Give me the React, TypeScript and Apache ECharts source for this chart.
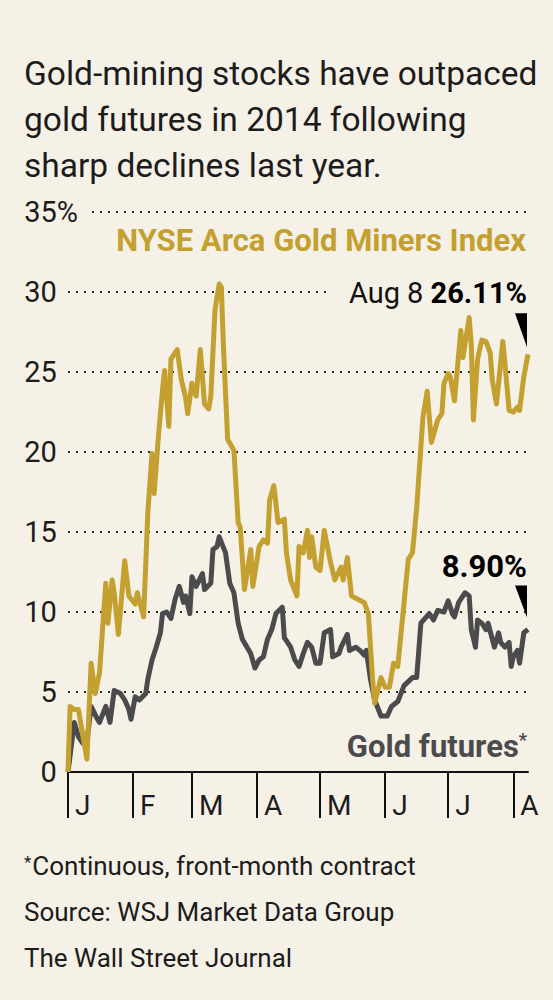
import React, { useEffect, useRef } from 'react';
import * as echarts from 'echarts';

const BG = '#f6f1e6';
const GOLD = '#c3a02f';
const GRAY = '#4b4b4d';
const INK = '#1c1c1c';
const FONT = 'Roboto, "Noto Sans", sans-serif';

const titleLines = [
  'Gold-mining stocks have outpaced',
  'gold futures in 2014 following',
  'sharp declines last year.',
];
const minersName = 'NYSE Arca Gold Miners Index';
const futuresName = 'Gold futures';
const lastDateLabel = 'Aug 8';
const notes = ['Continuous, front-month contract', 'Source: WSJ Market Data Group', 'The Wall Street Journal'];

// x values: days since Jan 1, 2014
const monthStarts = [0, 31, 59, 90, 120, 151, 181, 212];
const monthLetters = ['J', 'F', 'M', 'A', 'M', 'J', 'J', 'A'];
const lastDay = 219; // Aug 8

const minersDays = [0, 1, 3, 5, 6, 9, 11, 13, 15, 18, 19, 21, 22, 24, 27, 29, 32, 33, 36, 38, 40, 41, 43, 45, 46, 48, 49, 52, 54, 56, 57, 59, 61, 63, 65, 67, 68, 70, 72, 73, 74, 76, 79, 81, 82, 84, 87, 88, 91, 93, 95, 96, 98, 100, 103, 104, 106, 109, 110, 112, 114, 115, 116, 118, 120, 122, 125, 127, 130, 131, 133, 135, 138, 141, 143, 145, 146, 149, 151, 153, 155, 157, 160, 162, 164, 166, 168, 169, 171, 173, 176, 178, 179, 181, 182, 184, 187, 188, 191, 192, 193, 195, 197, 199, 201, 202, 204, 207, 208, 210, 212, 214, 215, 217, 219];
const minersVals = [0, 4.1, 3.9, 3.9, 3.1, 0.8, 6.8, 4.9, 6.2, 11.8, 9.3, 12, 11.2, 8.6, 13.2, 11, 10.5, 11.2, 9.7, 16.2, 19.9, 17.4, 20.9, 23.9, 25.1, 21.6, 25.8, 26.4, 24.5, 23.4, 22.4, 24.3, 23.5, 26.4, 23, 22.7, 23.5, 28.9, 30.5, 30.3, 26.6, 20.8, 20.1, 15.6, 15.3, 11.4, 13.9, 11.6, 14.1, 14.5, 14.3, 17, 17.9, 15.6, 15.8, 13.7, 12, 11, 14.1, 13.7, 15.1, 13.4, 14.7, 12.8, 12.6, 15.1, 13.1, 12, 12.8, 12, 13.4, 11, 10.8, 10.6, 9.9, 5.8, 4.3, 5.9, 5.3, 5.3, 6.8, 6.6, 10.6, 13.3, 13.7, 16.5, 20.3, 22.2, 23.8, 20.6, 22, 22.4, 24.3, 24.9, 24.7, 23.2, 27.6, 25.9, 28.4, 26.7, 22, 25.8, 27, 26.9, 26.2, 24.5, 23, 26.9, 25.6, 22.6, 22.5, 22.8, 22.6, 24.7, 26.11];

const futuresDays = [0, 3, 5, 7, 9, 11, 14, 15, 18, 20, 22, 25, 27, 29, 30, 32, 34, 37, 38, 40, 42, 44, 45, 47, 49, 51, 53, 55, 56, 58, 59, 61, 64, 65, 68, 69, 71, 72, 75, 77, 79, 81, 83, 87, 89, 91, 93, 95, 97, 99, 102, 103, 106, 108, 110, 112, 114, 116, 118, 120, 122, 125, 126, 129, 130, 133, 134, 137, 139, 141, 142, 144, 146, 149, 152, 154, 157, 160, 164, 166, 168, 172, 174, 176, 179, 181, 183, 184, 186, 189, 191, 192, 194, 195, 197, 199, 200, 202, 203, 205, 206, 208, 210, 211, 212, 214, 215, 217, 219];
const futuresVals = [0, 3.1, 2.2, 1.8, 1.9, 4.1, 3.3, 3.1, 4.1, 3.1, 5.1, 4.9, 4.5, 3.9, 3.3, 4.7, 4.5, 4.9, 5.8, 7, 7.8, 8.7, 9.9, 10, 9.6, 10.8, 11.6, 10.6, 11, 9.9, 12.2, 11.6, 12.4, 11.4, 11.8, 13.9, 14.1, 14.7, 13.7, 11.8, 11.2, 9.3, 8.3, 7.4, 6.5, 7, 7.2, 8.3, 8.9, 9.9, 10.3, 8.4, 7.8, 7, 6.6, 7.4, 8.1, 7.8, 6.8, 6.8, 8.7, 8.9, 7.2, 7.4, 7.8, 8.6, 7.6, 7.8, 7.6, 7.3, 7.6, 5.8, 4.5, 3.5, 3.5, 4.1, 4.4, 5.4, 5.9, 5.9, 9.3, 9.9, 9.5, 10.1, 10, 10.7, 9.9, 9.7, 10.6, 11.2, 11, 8.9, 7.8, 9.5, 9.3, 8.9, 9.3, 8.3, 7.8, 8.7, 8.1, 7.8, 8.1, 6.6, 7.2, 7.6, 6.8, 8.7, 8.9];

const pairs = (xs: number[], ys: number[]) => xs.map((x, i) => [x, ys[i]]);
const WEDGE = 'path://M0,0L12,0L12,34Z';

export default function App() {
  const ref = useRef<HTMLDivElement>(null);
  useEffect(() => {
    if (!ref.current) return;
    const chart = echarts.init(ref.current, undefined, { renderer: 'svg' });
    const mLast = minersVals[minersVals.length - 1];
    const fLast = futuresVals[futuresVals.length - 1];
    const txt = (text: string, x: number, y: number, size: number, color: string, weight: string, align = 'left', rich?: any) => ({
      type: 'text',
      x,
      y,
      silent: true,
      style: {
        text,
        fill: color,
        font: `${weight} ${size}px ${FONT}`,
        fontSize: size,
        fontWeight: weight,
        fontFamily: FONT,
        align,
        verticalAlign: 'middle',
        textAlign: align,
        textVerticalAlign: 'middle',
        rich,
      },
    });
    const option: any = {
      animation: false,
      backgroundColor: BG,
      grid: { left: 68, right: 25, top: 212, bottom: 228, containLabel: false },
      xAxis: {
        type: 'value',
        min: 0,
        max: lastDay,
        splitLine: { show: false },
        axisLine: { show: true, lineStyle: { color: '#111', width: 2 } },
        axisTick: { show: true, customValues: monthStarts, length: 46, lineStyle: { color: '#111', width: 2 } },
        axisLabel: {
          customValues: monthStarts,
          formatter: (v: number) => monthLetters[monthStarts.indexOf(Math.round(v))] ?? '',
          align: 'left',
          padding: [0, 0, 0, 7],
          margin: 19,
          fontSize: 28,
          fontFamily: FONT,
          color: INK,
        },
      },
      yAxis: {
        type: 'value',
        min: 0,
        max: 35,
        interval: 5,
        axisLine: { show: false },
        axisTick: { show: false },
        splitLine: { show: true, lineStyle: { color: '#2a2a2a', width: 2, type: [2, 6] } },
        axisLabel: {
          margin: -18,
          formatter: (v: number) => (v === 35 ? `{v|${v}}{p|%}` : `{v|${v}}{h|%}`),
          rich: {
            v: { fontSize: 29, fontFamily: FONT, color: INK },
            p: { fontSize: 29, fontFamily: FONT, color: INK, backgroundColor: BG, padding: [2, 8, 2, 0] },
            h: { fontSize: 29, fontFamily: FONT, color: 'rgba(0,0,0,0)', padding: [2, 8, 2, 0] },
          },
        },
      },
      series: [
        {
          type: 'line',
          name: futuresName,
          data: pairs(futuresDays, futuresVals),
          showSymbol: false,
          lineStyle: { color: GRAY, width: 5, join: 'round' },
          itemStyle: { color: GRAY },
          z: 3,
          markPoint: {
            silent: true,
            data: [
              {
                coord: [futuresDays[futuresDays.length - 1], fLast],
                symbol: WEDGE,
                symbolSize: [12, 32],
                symbolOffset: [-7, -28],
                itemStyle: { color: '#000' },
                label: {
                  show: true,
                  position: [12, -19],
                  align: 'right',
                  verticalAlign: 'middle',
                  formatter: `${fLast.toFixed(2)}%`,
                  fontSize: 31,
                  fontWeight: 'bold',
                  fontFamily: FONT,
                  color: '#000',
                },
              },
            ],
          },
        },
        {
          type: 'line',
          name: minersName,
          data: pairs(minersDays, minersVals),
          showSymbol: false,
          lineStyle: { color: GOLD, width: 5, join: 'round' },
          itemStyle: { color: GOLD },
          z: 4,
          markPoint: {
            silent: true,
            data: [
              {
                coord: [minersDays[minersDays.length - 1], mLast],
                symbol: WEDGE,
                symbolSize: [12, 34],
                symbolOffset: [-7, -24],
                itemStyle: { color: '#000' },
                label: {
                  show: true,
                  position: [12, -20],
                  align: 'right',
                  verticalAlign: 'middle',
                  formatter: `{a|${lastDateLabel} }{b|${mLast.toFixed(2)}%}`,
                  backgroundColor: BG,
                  padding: [3, 0, 3, 18],
                  rich: {
                    a: { fontSize: 29, fontFamily: FONT, color: '#111' },
                    b: { fontSize: 29, fontFamily: FONT, color: '#000', fontWeight: 'bold' },
                  },
                },
              },
            ],
          },
        },
      ],
      graphic: [
        txt(titleLines[0], 24, 73, 33.5, INK, 'normal'),
        txt(titleLines[1], 24, 119, 33.5, INK, 'normal'),
        txt(titleLines[2], 24, 165, 33.5, INK, 'normal'),
        txt(minersName, 526, 240, 31, GOLD, 'bold', 'right'),
        txt(`{n|${futuresName}}{s|*}`, 527, 746, 31, GRAY, 'bold', 'right', {
          n: { fontSize: 31, fontWeight: 'bold', fontFamily: FONT, fill: GRAY, color: GRAY },
          s: { fontSize: 18, fontWeight: 'bold', fontFamily: FONT, fill: GRAY, color: GRAY, verticalAlign: 'top', padding: [0, 0, 12, 0] },
        }),
        txt(`{s|*}{n|${notes[0]}}`, 24, 866, 26, INK, 'normal', 'left', {
          n: { fontSize: 26, fontFamily: FONT, fill: INK, color: INK },
          s: { fontSize: 17, fontFamily: FONT, fill: INK, color: INK, padding: [0, 1, 9, 0] },
        }),
        txt(notes[1], 24, 912, 26, INK, 'normal'),
        txt(notes[2], 24, 958, 26, INK, 'normal'),
      ],
    };
    chart.setOption(option);
    return () => chart.dispose();
  }, []);
  return <div ref={ref} style={{ position: 'absolute', left: 0, top: 0, width: 553, height: 1000 }} />;
}
